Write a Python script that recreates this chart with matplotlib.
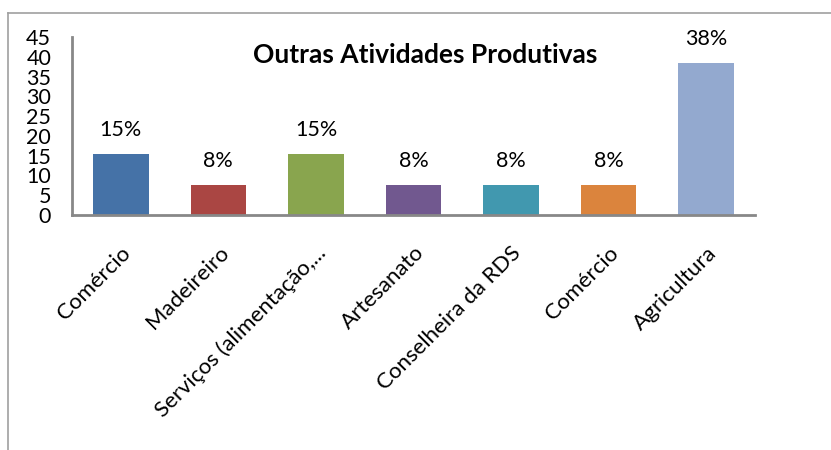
import matplotlib.pyplot as plt
from matplotlib.lines import Line2D

categories = [
    "Comércio",
    "Madeireiro",
    "Serviços (alimentação,...",
    "Artesanato",
    "Conselheira da RDS",
    "Comércio",
    "Agricultura",
]
values = [15.38, 7.69, 15.38, 7.69, 7.69, 7.69, 38.46]
value_labels = ["15%", "8%", "15%", "8%", "8%", "8%", "38%"]
colors = ["#4572A7", "#AA4643", "#89A54E", "#71588F", "#4198AF", "#DB843D", "#93A9CF"]
y_ticks = [0, 5, 10, 15, 20, 25, 30, 35, 40, 45]

plt.rcParams["font.family"] = ["Lato", "DejaVu Sans"]

fig = plt.figure(figsize=(8.31, 4.5), dpi=100)
ax = fig.add_axes([0.0866, 0.5222, 0.822, 0.3956])

x = range(len(categories))
bars = ax.bar(x, values, width=0.57, color=colors, zorder=2)

for rect, lab in zip(bars, value_labels):
    ax.annotate(
        lab,
        (rect.get_x() + rect.get_width() / 2, rect.get_height()),
        xytext=(0, 10),
        textcoords="offset points",
        ha="center",
        va="bottom",
        fontsize=15.5,
    )

ax.set_xlim(-0.5, len(categories) - 0.5)
ax.set_ylim(0, 45)
ax.set_yticks(y_ticks)
ax.set_yticklabels([str(t) for t in y_ticks], fontsize=15.5)
ax.tick_params(axis="y", length=0, pad=15)
ax.set_xticks(list(x))
ax.set_xticklabels(categories, rotation=45, ha="right", rotation_mode="anchor", fontsize=16)
ax.tick_params(axis="x", length=0, pad=20)

for side in ["top", "right"]:
    ax.spines[side].set_visible(False)
for side in ["left", "bottom"]:
    ax.spines[side].set_color("#888888")
    ax.spines[side].set_linewidth(2)

ax.text(0.517, 0.9, "Outras Atividades Produtivas", transform=ax.transAxes,
        ha="center", va="center", fontsize=19, fontweight="bold")

# chart area border, cropped by the image
fig.add_artist(Line2D([8 / 831, 8 / 831], [0, 1 - 13 / 450], color="#A0A0A0", lw=1.2,
                      transform=fig.transFigure))
fig.add_artist(Line2D([8 / 831, 1], [1 - 13 / 450, 1 - 13 / 450], color="#A0A0A0", lw=1.2,
                      transform=fig.transFigure))

fig.savefig("out.png", dpi=100)
